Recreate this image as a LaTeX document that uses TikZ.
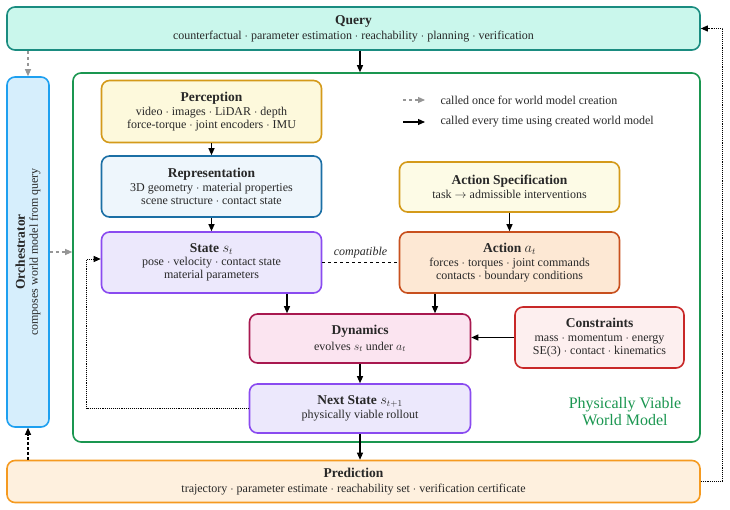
\documentclass[tikz,border=0pt]{standalone}
\usepackage{fontspec}
\setmainfont{Liberation Serif}
\usepackage{amsmath}
\usepackage{tikz}
\usetikzlibrary{arrows.meta, positioning, calc}
\definecolor{qryfill}{RGB}{202,247,236}
\definecolor{qrydraw}{RGB}{26,140,128}
\definecolor{orcfill}{RGB}{214,238,252}
\definecolor{orcdraw}{RGB}{30,160,240}
\definecolor{wmgreen}{RGB}{26,150,80}
\definecolor{yelfill}{RGB}{253,249,220}
\definecolor{yeldraw}{RGB}{212,154,26}
\definecolor{repfill}{RGB}{238,246,252}
\definecolor{repdraw}{RGB}{27,111,165}
\definecolor{stfill}{RGB}{236,232,252}
\definecolor{stdraw}{RGB}{138,75,240}
\definecolor{spcfill}{RGB}{253,251,230}
\definecolor{actfill}{RGB}{253,232,212}
\definecolor{actdraw}{RGB}{200,80,30}
\definecolor{dynfill}{RGB}{251,228,240}
\definecolor{dyndraw}{RGB}{168,24,79}
\definecolor{cnsfill}{RGB}{253,239,239}
\definecolor{cnsdraw}{RGB}{200,40,40}
\definecolor{prdfill}{RGB}{254,240,222}
\definecolor{prddraw}{RGB}{245,154,32}
\definecolor{txtdark}{RGB}{40,40,40}
\definecolor{oncegray}{RGB}{150,150,150}
\newcommand{\ttl}[1]{{\fontsize{13.5}{13.5}\selectfont\bfseries #1}}
\tikzset{
  box/.style={rectangle, rounded corners=8pt, line width=1.6pt, align=center,
    inner sep=0pt, text=txtdark, font=\fontsize{12}{13}\selectfont},
  arrow/.style={-{Triangle[length=7pt,width=6pt]}, line width=1.1pt, color=black},
  oncearrow/.style={-{Triangle[length=7pt,width=6pt]}, line width=1.1pt, dashed, color=oncegray},
  backarrow/.style={-{Triangle[length=7pt,width=6pt]}, line width=1.1pt, densely dashed, color=black},
  looparrow/.style={-{Triangle[length=7pt,width=6pt]}, line width=0.9pt, densely dotted, color=black},
  compline/.style={line width=1.1pt, dashed, color=black}
}
\begin{document}
\begin{tikzpicture}[x=1pt, y=-1pt]
  \useasboundingbox (0,0) rectangle (730,510);

  \node[box, draw=qrydraw, fill=qryfill, minimum width=693pt, minimum height=43pt] (query) at (353.5,28.5)
    {\ttl{Query}\\[2pt]counterfactual $\cdot$ parameter estimation $\cdot$ reachability $\cdot$ planning $\cdot$ verification};
  \node[box, draw=orcdraw, fill=orcfill, minimum width=42pt, minimum height=350pt] (orch) at (28,252) {};
  \node[rotate=90, align=center, text=txtdark, font=\fontsize{12}{13}\selectfont] (orchtxt) at (orch.center)
    {\ttl{Orchestrator}\\composes world model from query};
  \node[box, draw=wmgreen, fill=white, minimum width=627pt, minimum height=369pt] (wm) at (386.5,257.5) {};
  \node[box, draw=prddraw, fill=prdfill, minimum width=693pt, minimum height=42pt] (pred) at (353.5,481.5)
    {\ttl{Prediction}\\[2.5pt]trajectory $\cdot$ parameter estimate $\cdot$ reachability set $\cdot$ verification certificate};

  \node[box, draw=yeldraw, fill=yelfill, minimum width=220pt, minimum height=62pt] (perc) at (211.5,111.5)
    {\ttl{Perception}\\[0.5pt]video $\cdot$ images $\cdot$ LiDAR $\cdot$ depth\\force-torque $\cdot$ joint encoders $\cdot$ IMU};
  \node[box, draw=repdraw, fill=repfill, minimum width=220pt, minimum height=61pt] (repr) at (211.5,186.5)
    {\ttl{Representation}\\[0.5pt]3D geometry $\cdot$ material properties\\scene structure $\cdot$ contact state};
  \node[box, draw=stdraw, fill=stfill, minimum width=220pt, minimum height=61pt] (state) at (211.5,262.5)
    {\ttl{State $s_t$}\\[0.5pt]pose $\cdot$ velocity $\cdot$ contact state\\material parameters};
  \node[box, draw=yeldraw, fill=spcfill, minimum width=220pt, minimum height=50pt] (aspec) at (509.5,187)
    {\ttl{Action Specification}\\[1pt]task $\rightarrow$ admissible interventions};
  \node[box, draw=actdraw, fill=actfill, minimum width=220pt, minimum height=61pt] (action) at (509.5,262.5)
    {\ttl{Action $a_t$}\\[0.5pt]forces $\cdot$ torques $\cdot$ joint commands\\contacts $\cdot$ boundary conditions};
  \node[box, draw=dyndraw, fill=dynfill, minimum width=221pt, minimum height=49pt] (dyn) at (360,338.5)
    {\ttl{Dynamics}\\[2.5pt]evolves $s_t$ under $a_t$};
  \node[box, draw=cnsdraw, fill=cnsfill, minimum width=169pt, minimum height=61pt] (cons) at (599.5,337.5)
    {\ttl{Constraints}\\[0.5pt]mass $\cdot$ momentum $\cdot$ energy\\SE(3) $\cdot$ contact $\cdot$ kinematics};
  \node[box, draw=stdraw, fill=stfill, minimum width=221pt, minimum height=49pt] (next) at (360,408.5)
    {\ttl{Next State $s_{t+1}$}\\[1.5pt]physically viable rollout};

  \node[align=center, text=wmgreen, font=\fontsize{16}{17}\selectfont] (wmlabel) at (625,411.5)
    {Physically Viable\\World Model};

  % legend
  \coordinate (lgonce) at (403,100);
  \coordinate (lgevery) at (403,122);
  \draw[oncearrow] (lgonce) -- ++(22,0);
  \draw[arrow] (lgevery) -- ++(22,0);
  \node[anchor=west, text=txtdark, font=\fontsize{12}{13}\selectfont] (lgtxt1) at (437,100) {called once for world model creation};
  \node[anchor=west, text=txtdark, font=\fontsize{12}{13}\selectfont] (lgtxt2) at (437,122) {called every time using created world model};

  \draw[arrow] (query.south -| dyn) -- (wm.north -| dyn);
  \draw[oncearrow] (query.south -| orch) -- (orch.north);
  \draw[oncearrow] (orch.east) -- (orch.east -| wm.west);
  \draw[arrow] (perc) -- (repr);
  \draw[arrow] (repr) -- (state);
  \draw[arrow] (aspec) -- (action);
  \draw[compline] (state) -- node[above=1pt, font=\fontsize{12}{13}\itshape, text=txtdark] {compatible} (action);
  \draw[arrow] ([xshift=75.5pt]state.south) -- ([xshift=75.5pt]state.south |- dyn.north);
  \draw[arrow] ([xshift=-74.5pt]action.south) -- ([xshift=-74.5pt]action.south |- dyn.north);
  \draw[arrow] (cons.west) -- (cons.west -| dyn.east);
  \draw[arrow] (dyn) -- (next);
  \draw[arrow] (next.south) -- (pred.north -| next);
  \draw[looparrow] (next.west) -- ++(-162,0) |- ([yshift=3.5pt]state.west);
  \draw[backarrow] (pred.north -| orch) -- (orch.south);
  \draw[looparrow] (pred.east) -- ++(22,0) |- (query.east);

\end{tikzpicture}
\end{document}
